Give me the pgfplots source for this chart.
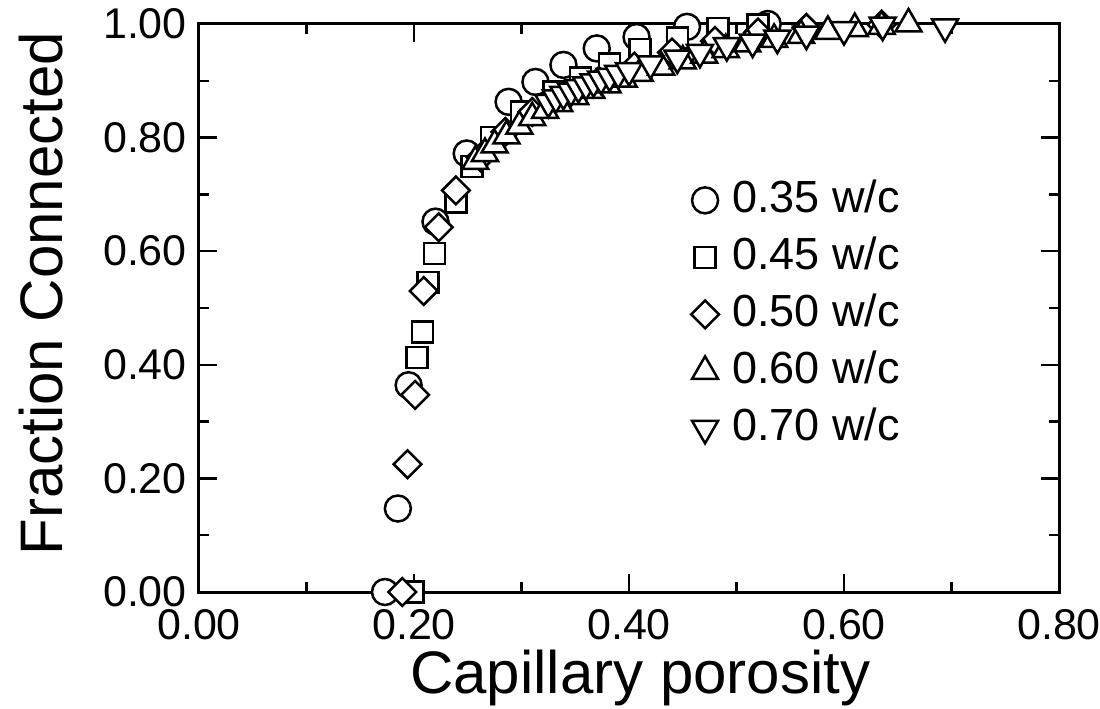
\documentclass[border=0pt]{standalone}
\usepackage{fontspec}
\setmainfont{Liberation Sans}
\usepackage{pgfplots}
\pgfplotsset{compat=1.18}
\tikzset{mk/.style={solid, draw=black, fill=white, line width=2.5bp}}
\begin{document}
\begin{tikzpicture}
\path[use as bounding box] (-199bp,-117bp) rectangle (901bp,592bp);
\begin{axis}[
  at={(0,0)}, anchor=south west,
  scale only axis, width=860bp, height=568bp,
  xmin=0, xmax=0.8, ymin=0, ymax=1,
  clip=false,
  xtick={0,0.2,0.4,0.6,0.8}, ytick={0,0.2,0.4,0.6,0.8,1},
  minor x tick num=1, minor y tick num=1,
  tick align=inside, xtick pos=both, ytick pos=both,
  major tick length=18bp, minor tick length=10bp,
  every tick/.style={black, line width=2.5bp},
  axis line style={line width=3bp},
  /pgf/number format/.cd, fixed, fixed zerofill, precision=2, assume math mode=true,
  /pgfplots/.cd,
  ticklabel style={font=\fontsize{43bp}{45bp}\selectfont, inner sep=0pt},
  xticklabel style={yshift=-17bp},
  yticklabel style={xshift=-12bp},
  xlabel={Capillary porosity}, ylabel={Fraction Connected},
  label style={font=\fontsize{60bp}{63bp}\selectfont},
  xlabel style={at={(axis description cs:0.513,-0.179)}, anchor=base},
  ylabel style={at={(axis description cs:-0.184,0.525)}, anchor=center},
  legend style={draw=none, fill=none, inner sep=0pt, outer sep=0pt,
    at={(axis description cs:0.571,0.73)}, anchor=north west,
    font=\fontsize{45bp}{47bp}\selectfont, row sep=11bp,
    nodes={inner xsep=12bp, inner ysep=2bp, text height=33bp, text depth=9bp}},
  legend cell align=left,
  legend image code/.code={\path[draw=none, fill=none] (0bp,0bp) -- (30bp,0bp); \draw plot coordinates {(15bp,0bp)};},
  every axis plot/.append style={only marks},
]
\addplot[mark=*, mark size=13bp, mark options={mk}] coordinates {
(0.173,0.000) (0.185,0.147) (0.195,0.364) (0.220,0.652) (0.249,0.772)
(0.288,0.863) (0.313,0.898) (0.339,0.928) (0.370,0.957) (0.407,0.977)
(0.454,0.995) (0.529,1.000)};
\addlegendentry{0.35 w/c}
\addplot[mark=square*, mark size=10.5bp, mark options={mk}] coordinates {
(0.199,0.000) (0.203,0.413) (0.208,0.458) (0.213,0.545) (0.219,0.596)
(0.239,0.687) (0.254,0.749) (0.272,0.800) (0.300,0.845) (0.330,0.880)
(0.355,0.905) (0.382,0.930) (0.410,0.955) (0.445,0.975) (0.483,0.992)
(0.520,0.998)};
\addlegendentry{0.45 w/c}
\addplot[mark=square*, mark size=9.8bp, mark options={mk, rotate=45}] coordinates {
(0.189,0.000) (0.194,0.225) (0.201,0.347) (0.209,0.530) (0.223,0.642)
(0.239,0.707) (0.262,0.765) (0.285,0.810) (0.310,0.845) (0.340,0.875)
(0.372,0.900) (0.405,0.925) (0.440,0.950) (0.480,0.970) (0.520,0.985)
(0.565,0.993) (0.635,0.999)};
\addlegendentry{0.50 w/c}
\addplot[mark=triangle*, mark size=15bp, mark options={mk}] coordinates {
(0.257,0.758) (0.266,0.772) (0.275,0.787) (0.286,0.803) (0.298,0.820)
(0.310,0.835) (0.322,0.848) (0.335,0.860) (0.350,0.872) (0.365,0.883)
(0.380,0.893) (0.395,0.903) (0.410,0.913) (0.430,0.924) (0.450,0.935)
(0.470,0.945) (0.490,0.955) (0.510,0.965) (0.535,0.973) (0.560,0.980)
(0.585,0.987) (0.610,0.992) (0.635,0.996) (0.660,1.000)};
\addlegendentry{0.60 w/c}
\addplot[mark=triangle*, mark size=15bp, mark options={mk, rotate=180}] coordinates {
(0.325,0.862) (0.332,0.870) (0.339,0.876) (0.346,0.882) (0.353,0.888)
(0.360,0.893) (0.367,0.898) (0.374,0.903) (0.382,0.908) (0.390,0.913)
(0.400,0.918) (0.420,0.930) (0.445,0.940) (0.466,0.950) (0.491,0.962)
(0.515,0.968) (0.538,0.975) (0.565,0.982) (0.600,0.990) (0.636,0.998)
(0.694,0.995)};
\addlegendentry{0.70 w/c}
\end{axis}
\end{tikzpicture}
\end{document}
